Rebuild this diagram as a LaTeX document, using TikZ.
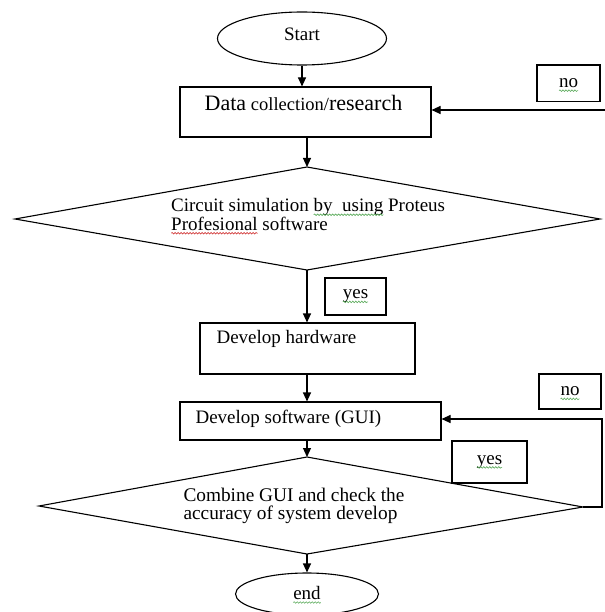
\documentclass[tikz,border=0pt]{standalone}
\usepackage{fontspec}
\setmainfont{Liberation Serif}
\usetikzlibrary{shapes.geometric,arrows.meta,calc,decorations.pathmorphing}
\definecolor{sqgreen}{RGB}{90,170,90}
\definecolor{sqred}{RGB}{210,60,60}
\newcommand\sqwave[2]{\tikz[baseline=(sqw.base),x=1bp,y=1bp]{\node[inner sep=0pt,outer sep=0pt,draw=none,minimum width=0pt,minimum height=0pt,anchor=center] (sqw) {#2};\draw[overlay,#1,line width=0.6bp,decorate,decoration={snake,segment length=3bp,amplitude=0.8bp}] ([yshift=-3bp]sqw.base west) -- ([yshift=-3bp]sqw.base east);}}
\newcommand\gwave[1]{\sqwave{sqgreen}{#1}}
\newcommand\rwave[1]{\sqwave{sqred}{#1}}
\begin{document}
\begin{tikzpicture}[x=1bp,y=-1bp,line width=1.1bp,
  txt/.style={font=\fontsize{19bp}{17bp}\selectfont,inner sep=0pt},
  boxd/.style={draw,inner sep=0pt,font=\fontsize{19bp}{17bp}\selectfont},
  arr/.style={-{Triangle[length=9bp,width=8bp]}}]
\useasboundingbox (0,0) rectangle (605,612);
% Start
\node[draw,ellipse,inner sep=0pt,minimum width=169bp,minimum height=53bp] (start) at (302,38.5) {};
\node[txt] (startt) at (302,34) {Start};
% Data collection
\node[boxd,minimum width=251bp,minimum height=50bp] (data) at (305.5,112) {};
\node[txt,anchor=base] (datat) at (303.5,111) {{\fontsize{22bp}{22bp}\selectfont Data} {\fontsize{18.5bp}{19bp}\selectfont collection/}{\fontsize{22bp}{22bp}\selectfont research}};
\node[boxd,minimum width=63bp,minimum height=36.5bp] (no1) at (568.5,83.3) {\gwave{no}};
% Diamond 1
\coordinate (d1t) at (307,167);
\coordinate (d1l) at (15,219);
\coordinate (d1r) at (600,219);
\coordinate (d1b) at (307,270);
\draw (d1t) -- (d1r) -- (d1b) -- (d1l) -- cycle;
\node[txt,align=left,anchor=west,font=\fontsize{19bp}{16.5bp}\selectfont] (d1txt) at (171,214.5) {Circuit simulation \gwave{by\ \ using} Proteus\\\rwave{Profesional} software};
\node[boxd,minimum width=61bp,minimum height=37bp] (yes1) at (355.5,296.5) {\gwave{yes}};
% Develop hardware
\node[boxd,minimum width=215bp,minimum height=51bp] (hw) at (307.5,348.5) {};
\node[txt,anchor=west] (hwt) at (216,338.5) {Develop hardware};
% Develop software
\node[boxd,minimum width=261bp,minimum height=38bp] (sw) at (310.5,421) {};
\node[txt,anchor=west] (swt) at (195,418.5) {Develop software (GUI)};
\node[boxd,minimum width=62bp,minimum height=35bp] (no2) at (570,391.5) {\gwave{no}};
\node[boxd,minimum width=75bp,minimum height=42bp] (yes2) at (489.5,462) {\gwave{yes}};
% Diamond 2
\coordinate (d2t) at (307,457);
\coordinate (d2l) at (39,506);
\coordinate (d2r) at (583,507);
\coordinate (d2b) at (307,554);
\draw (d2t) -- (d2r) -- (d2b) -- (d2l) -- cycle;
\node[txt,align=left,anchor=west,font=\fontsize{19.3bp}{17.5bp}\selectfont] (d2txt) at (183,506) {Combine GUI and check the\\accuracy of system develop};
% end
\node[draw,ellipse,inner sep=0pt,minimum width=143bp,minimum height=42bp] (end) at (307,594) {};
\node[txt] (endt) at (307,593) {\gwave{end}};
% connectors
\draw[arr] (start.south) -- (start.south |- data.north);
\draw[arr] (d1t |- data.south) -- (d1t);
\draw[arr] (d1b) -- (d1b |- hw.north);
\draw[arr] (d1b |- hw.south) -- (d1b |- sw.north);
\draw[arr] (d1b |- sw.south) -- (d2t);
\draw[arr] (d2b) -- (d2b |- end.north);
\coordinate (r1) at (605,110);
\draw[arr] (r1) -- (r1 -| data.east);
\coordinate (r2) at (602,419);
\draw[arr] (d2r) -| (r2) -- (r2 -| sw.east);
\end{tikzpicture}
\end{document}
